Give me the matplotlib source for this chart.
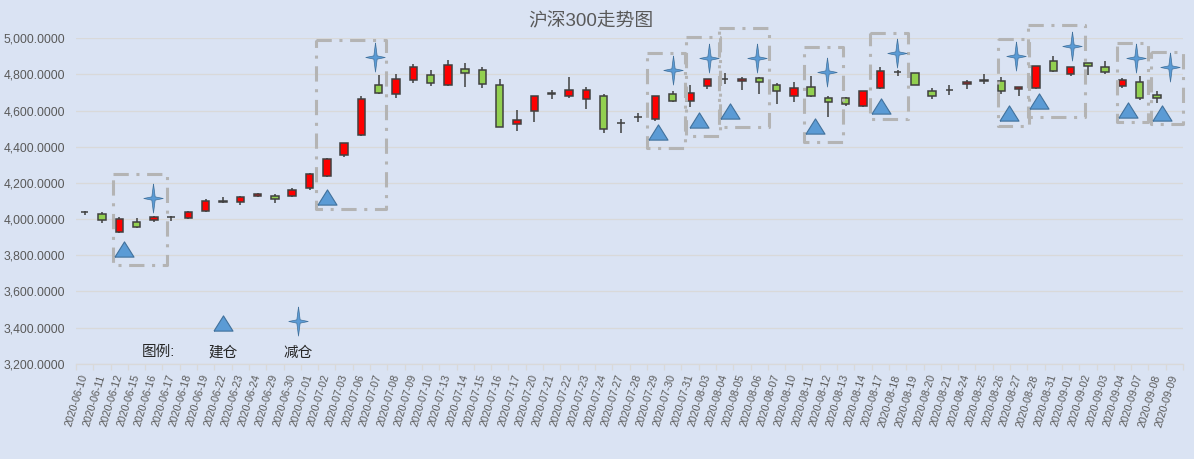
import numpy as np
import matplotlib
matplotlib.use("Agg")
from matplotlib import pyplot as plt
from matplotlib.path import Path

plt.rcParams['font.family'] = ['Liberation Sans', 'Noto Sans CJK SC', 'DejaVu Sans']

dates = ["2020-06-10", "2020-06-11", "2020-06-12", "2020-06-15", "2020-06-16", "2020-06-17",
         "2020-06-18", "2020-06-19", "2020-06-22", "2020-06-23", "2020-06-24", "2020-06-29",
         "2020-06-30", "2020-07-01", "2020-07-02", "2020-07-03", "2020-07-06", "2020-07-07",
         "2020-07-08", "2020-07-09", "2020-07-10", "2020-07-13", "2020-07-14", "2020-07-15",
         "2020-07-16", "2020-07-17", "2020-07-20", "2020-07-21", "2020-07-22", "2020-07-23",
         "2020-07-24", "2020-07-27", "2020-07-28", "2020-07-29", "2020-07-30", "2020-07-31",
         "2020-08-03", "2020-08-04", "2020-08-05", "2020-08-06", "2020-08-07", "2020-08-10",
         "2020-08-11", "2020-08-12", "2020-08-13", "2020-08-14", "2020-08-17", "2020-08-18",
         "2020-08-19", "2020-08-20", "2020-08-21", "2020-08-24", "2020-08-25", "2020-08-26",
         "2020-08-27", "2020-08-28", "2020-08-31", "2020-09-01", "2020-09-02", "2020-09-03",
         "2020-09-04", "2020-09-07", "2020-09-08", "2020-09-09"]

nan = np.nan
opens = [4040, 4027, 3927, 3982, 3993, 4012, 4004, 4043, 4096, 4093, 4127, 4126, 4127, 4170,
         4238, 4353, 4463, 4740, 4690, 4768, 4795, 4740, 4832, 4823, 4740, 4524, 4596, 4694,
         4683, 4666, 4679, 4531, 4565, 4555, 4690, 4652, 4734, 4774, 4762, 4779, 4740, 4679,
         4729, 4668, 4668, 4627, 4727, 4814, 4806, 4707, 4713, 4746, 4765, 4762, 4718, 4727,
         4873, 4801, 4862, 4840, 4734, 4757, 4685, nan]
highs = [4045, 4038, 4010, 4004, 4017, 4016, 4046, 4109, 4124, 4126, 4144, 4139, 4172, 4253,
         4336, 4421, 4679, 4795, 4801, 4856, 4823, 4880, 4862, 4840, 4773, 4603, 4680, 4714,
         4788, 4729, 4690, 4555, 4589, 4680, 4707, 4740, 4773, 4806, 4784, 4788, 4751, 4757,
         4790, 4679, 4674, 4707, 4840, 4825, 4806, 4723, 4740, 4768, 4801, 4784, 4730, 4848,
         4902, 4840, 4862, 4877, 4779, 4790, 4707, nan]
lows = [4025, 3977, 3921, 3951, 3982, 3989, 3999, 4039, 4091, 4080, 4121, 4087, 4122, 4161,
        4232, 4345, 4460, 4690, 4668, 4754, 4734, 4738, 4729, 4723, 4509, 4487, 4535, 4663,
        4671, 4607, 4478, 4478, 4537, 4544, 4649, 4622, 4718, 4746, 4712, 4690, 4635, 4646,
        4674, 4563, 4624, 4620, 4721, 4791, 4740, 4663, 4685, 4718, 4746, 4692, 4679, 4718,
        4815, 4790, 4795, 4801, 4727, 4657, 4640, nan]
closes = [4041, 3993, 3999, 3955, 4010, 4014, 4041, 4098, 4098, 4121, 4138, 4110, 4159, 4249,
          4334, 4419, 4666, 4696, 4773, 4840, 4751, 4851, 4806, 4746, 4511, 4546, 4679, 4697,
          4712, 4712, 4500, 4534, 4567, 4679, 4655, 4696, 4773, 4776, 4777, 4760, 4707, 4723,
          4679, 4646, 4635, 4707, 4817, 4816, 4740, 4679, 4715, 4757, 4767, 4707, 4729, 4845,
          4817, 4840, 4845, 4815, 4768, 4668, 4668, nan]

# 建仓 / 减仓 markers (category position, price level)
buy_x = [2.26, 14.01, 33.13, 35.5, 37.31, 42.22, 46.02, 53.44, 55.17, 60.32, 62.29]
buy_y = [3833, 4124, 4483, 4548, 4600, 4515, 4626, 4585, 4653, 4603, 4585]
sell_x = [3.95, 16.8, 34.0, 36.1, 38.87, 42.92, 46.98, 53.86, 57.08, 60.78, 62.75]
sell_y = [4118, 4898, 4825, 4889, 4893, 4815, 4917, 4902, 4959, 4893, 4843]

# dashed boxes: x0, x1, top, bottom
boxes = [(1.62, 4.76, 4249, 3746), (13.38, 17.40, 4991, 4054), (32.49, 34.71, 4917, 4395),
         (34.77, 36.73, 5006, 4460), (36.67, 39.58, 5055, 4511), (41.57, 43.86, 4950, 4426),
         (45.39, 47.62, 5031, 4552), (52.79, 54.61, 4994, 4515), (54.52, 57.83, 5072, 4563),
         (59.67, 61.49, 4976, 4539), (61.63, 63.48, 4923, 4524)]

bg = '#DAE3F3'
up_color = '#FF0000'
down_color = '#92D050'
edge_color = '#404040'
marker_color = '#5B9BD5'
marker_edge = '#41719C'

fig = plt.figure(figsize=(11.94, 4.59), dpi=100, facecolor=bg)
ax = fig.add_axes([76 / 1194, (459 - 363.7) / 459, 1107 / 1194, 325.4 / 459])
ax.set_facecolor(bg)

x = np.arange(len(dates))
o = np.array(opens, dtype=float)
h = np.array(highs, dtype=float)
l = np.array(lows, dtype=float)
c = np.array(closes, dtype=float)
ok = ~np.isnan(o)

# wicks
ax.vlines(x[ok], l[ok], h[ok], color=edge_color, linewidth=1.1, zorder=2)

# bodies
colors = [up_color if cc >= oo else down_color for oo, cc in zip(o[ok], c[ok])]
bottoms = np.minimum(o[ok], c[ok])
heights = np.abs(c[ok] - o[ok])
ax.bar(x[ok], heights, bottom=bottoms, width=0.43, color=colors,
       edgecolor=edge_color, linewidth=1.1, zorder=3)

# four point star marker
star = Path([(0, 1.5), (0.17, 0.17), (1, 0), (0.17, -0.17), (0, -1.5),
             (-0.17, -0.17), (-1, 0), (-0.17, 0.17), (0, 1.5)])
tri = Path([(-1, -0.8), (1, -0.8), (0, 0.8), (-1, -0.8)])

ax.plot(buy_x, buy_y, linestyle='none', marker=tri, markersize=13.7,
        markerfacecolor=marker_color, markeredgecolor=marker_edge, markeredgewidth=0.8,
        zorder=5, clip_on=False)
ax.plot(sell_x, sell_y, linestyle='none', marker=star, markersize=21,
        markerfacecolor=marker_color, markeredgecolor=marker_edge, markeredgewidth=0.5,
        zorder=5, clip_on=False)

for x0, x1, top, bot in boxes:
    ax.plot([x0, x1, x1, x0, x0], [top, top, bot, bot, top], color='#B4B4B4',
            linewidth=2.2, dashes=(5, 2.5, 1, 2.5), zorder=4, clip_on=False)

# legend drawn inside the chart
ax.plot([7.98], [3425], linestyle='none', marker=tri, markersize=13.7,
        markerfacecolor=marker_color, markeredgecolor=marker_edge, markeredgewidth=0.8, zorder=5)
ax.plot([12.35], [3438], linestyle='none', marker=star, markersize=21,
        markerfacecolor=marker_color, markeredgecolor=marker_edge, markeredgewidth=0.5, zorder=5)
ax.text(4.29, 3268, "图例:", fontsize=10.5, ha='center', va='center', color='#262626')
ax.text(7.98, 3262, "建仓", fontsize=10.5, ha='center', va='center', color='#262626')
ax.text(12.35, 3262, "减仓", fontsize=10.5, ha='center', va='center', color='#262626')

ax.set_xlim(-0.5, len(dates) - 0.5)
ax.set_ylim(3200, 5000)
ax.set_yticks(np.arange(3200, 5001, 200))
ax.set_yticklabels([f"{v:,.4f}" for v in np.arange(3200, 5001, 200)])
ax.grid(axis='y', color='#D9D9D9', linewidth=0.9, zorder=0)
ax.set_axisbelow(True)

ax.set_xticks(x)
ax.set_xticklabels(dates, rotation=73, ha='right', va='center', rotation_mode='anchor')
ax.set_xticks(np.arange(-0.5, len(dates), 1), minor=True)
ax.tick_params(axis='x', which='major', length=0, pad=8, labelsize=7.7, labelcolor='#595959')
ax.tick_params(axis='x', which='minor', length=4, color='#D9D9D9', width=0.9)
ax.tick_params(axis='y', length=0, pad=8, labelsize=8.7, labelcolor='#595959')

for side in ['top', 'right', 'left']:
    ax.spines[side].set_visible(False)
ax.spines['bottom'].set_color('#D9D9D9')
ax.spines['bottom'].set_linewidth(0.9)

fig.text(591 / 1194, 1 - 21 / 459, "沪深300走势图", fontsize=13.5, color='#595959',
         ha='center', va='center')

fig.savefig("out.png", dpi=100, facecolor=bg)
